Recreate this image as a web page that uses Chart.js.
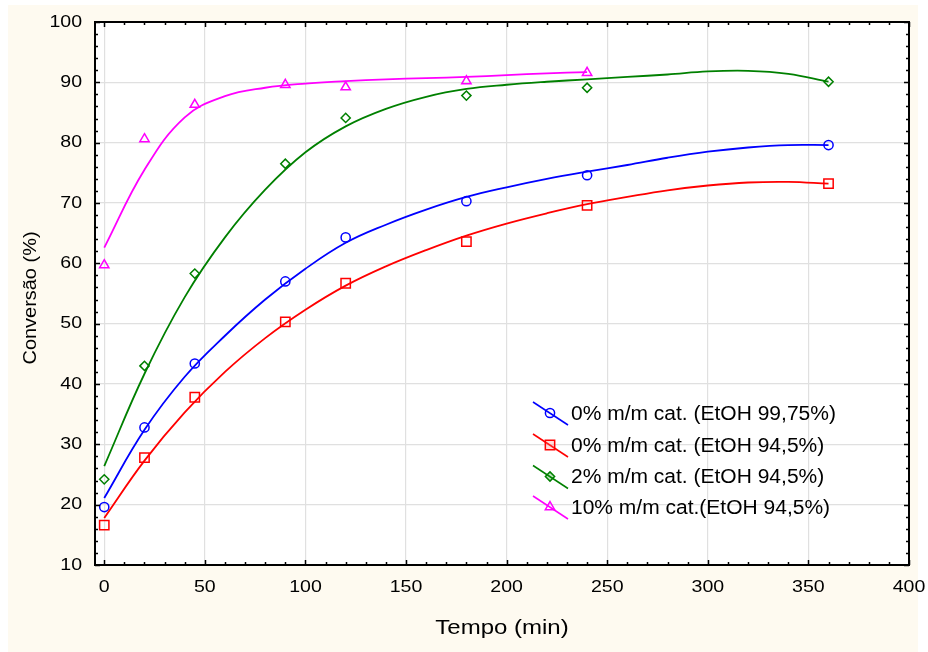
<!DOCTYPE html>
<html>
<head>
<meta charset="utf-8">
<script src="https://cdn.jsdelivr.net/npm/chart.js@4.4.0/dist/chart.umd.min.js"></script>
<style>
  html, body { margin: 0; padding: 0; background: #ffffff; }
  #wrap { width: 928px; height: 652px; }
</style>
</head>
<body>
<div id="wrap"><canvas id="chart" width="928" height="652"></canvas></div>
<script>
// Measured points (Tempo in min, Conversão in %)
const sampleTimes = [0, 20, 45, 90, 120, 180, 240, 360];
const conv0Eth9975 = [19.6, 32.8, 43.4, 57.0, 64.3, 70.3, 74.6, 79.6];
const conv0Eth945 = [16.6, 27.8, 37.8, 50.3, 56.7, 63.6, 69.6, 73.2];
const conv2Eth945 = [24.2, 43.0, 58.3, 76.5, 84.1, 87.8, 89.1, 90.1];
const sampleTimes10 = [0, 20, 45, 90, 120, 180, 240];
const conv10Eth945 = [59.7, 80.6, 86.3, 89.6, 89.2, 90.2, 91.6];

// Fitted curves, every 20 min
const curveTimes = [0, 20, 40, 60, 80, 100, 120, 140, 160, 180, 200, 220, 240, 260, 280, 300, 320, 340, 360];
const fit0Eth9975 = [21.1, 32.4, 41.2, 48.0, 54.0, 59.1, 63.4, 66.4, 68.9, 71.0, 72.6, 74.0, 75.2, 76.3, 77.5, 78.5, 79.2, 79.6, 79.6];
const fit0Eth945 = [17.8, 27.3, 35.3, 42.0, 47.6, 52.3, 56.3, 59.5, 62.2, 64.6, 66.6, 68.3, 69.8, 71.0, 72.1, 72.9, 73.4, 73.5, 73.2];
const fit2Eth945 = [26.4, 41.7, 54.4, 64.3, 72.2, 78.4, 82.7, 85.6, 87.6, 88.9, 89.6, 90.1, 90.5, 90.9, 91.3, 91.8, 91.9, 91.4, 90.1];
const curveTimes10 = [0, 20, 40, 60, 80, 100, 120, 140, 160, 180, 200, 220, 240];
const fit10Eth945 = [62.6, 75.5, 84.2, 87.7, 89.1, 89.8, 90.2, 90.5, 90.7, 90.9, 91.2, 91.5, 91.7];

const xTickValues = [0, 50, 100, 150, 200, 250, 300, 350, 400];
const yTickValues = [10, 20, 30, 40, 50, 60, 70, 80, 90, 100];

const seriesNames = [
    '0% m/m cat. (EtOH 99,75%)',
    '0% m/m cat. (EtOH 94,5%)',
    '2% m/m cat. (EtOH 94,5%)',
    '10% m/m cat.(EtOH 94,5%)'
];
const seriesColors = ['#0000ff', '#ff0000', '#008000', '#ff00ff'];
const legendFills = ['rgba(255,255,255,0)', 'rgba(255,120,120,0.25)', 'rgba(0,160,0,0.25)', 'rgba(255,255,255,0)'];
const markerStyles = [
    { pointStyle: 'circle', radius: 4.6 },
    { pointStyle: 'rect', radius: 6.6 },
    { pointStyle: 'rectRot', radius: 4.6 },
    { pointStyle: 'triangle', radius: 5.4 }
];

function toPoints(xs, ys) {
    return xs.map((x, i) => ({ x: x, y: ys[i] }));
}

function curveDataset(xs, ys, color) {
    return {
        data: toPoints(xs, ys),
        showLine: true,
        borderColor: color,
        borderWidth: 1.8,
        pointRadius: 0,
        tension: 0.4,
        fill: false
    };
}

function markerDataset(xs, ys, idx) {
    return {
        data: toPoints(xs, ys),
        showLine: false,
        borderColor: seriesColors[idx],
        backgroundColor: 'rgba(255,255,255,0)',
        pointStyle: markerStyles[idx].pointStyle,
        pointRadius: markerStyles[idx].radius,
        pointBorderWidth: 1.5
    };
}

const FONT = '"Liberation Sans", Arial, sans-serif';

function stretchText(ctx, text, x, y, size, align, sx, rot) {
    ctx.save();
    ctx.translate(x, y);
    if (rot) ctx.rotate(rot);
    ctx.scale(sx, 1);
    ctx.font = size + 'px ' + FONT;
    ctx.textAlign = align;
    ctx.textBaseline = 'middle';
    ctx.fillStyle = '#000000';
    ctx.fillText(text, 0, 0);
    ctx.restore();
}

// cream page, white plot panel
const backdrop = {
    id: 'backdrop',
    beforeDraw(chart) {
        const ctx = chart.ctx;
        const a = chart.chartArea;
        ctx.save();
        ctx.fillStyle = '#ffffff';
        ctx.fillRect(0, 0, chart.width, chart.height);
        ctx.fillStyle = '#fefaf0';
        ctx.fillRect(8, 5, 910, 647);
        ctx.fillStyle = '#ffffff';
        ctx.fillRect(a.left, a.top, a.right - a.left, a.bottom - a.top);
        ctx.restore();
    }
};

// frame, inward ticks, labels, titles, legend
const decorations = {
    id: 'decorations',
    afterDraw(chart) {
        const ctx = chart.ctx;
        const a = chart.chartArea;
        const xs = chart.scales.x;
        const ys = chart.scales.y;

        ctx.save();
        ctx.strokeStyle = '#000000';
        ctx.lineWidth = 2;
        ctx.strokeRect(a.left, a.top, a.right - a.left, a.bottom - a.top);

        ctx.lineWidth = 1.5;
        ctx.beginPath();
        for (let v = 0; v <= 400; v += 10) {
            const px = Math.round(xs.getPixelForValue(v)) + 0.5;
            const len = v % 50 === 0 ? 5 : 3;
            ctx.moveTo(px, a.bottom); ctx.lineTo(px, a.bottom - len);
            ctx.moveTo(px, a.top); ctx.lineTo(px, a.top + len);
        }
        for (let v = 10; v <= 100; v += 2) {
            const py = Math.round(ys.getPixelForValue(v)) + 0.5;
            const len = v % 10 === 0 ? 5 : 3;
            ctx.moveTo(a.left, py); ctx.lineTo(a.left + len, py);
            ctx.moveTo(a.right, py); ctx.lineTo(a.right - len, py);
        }
        ctx.stroke();
        ctx.restore();

        xTickValues.forEach(v => {
            stretchText(ctx, String(v), xs.getPixelForValue(v), 587, 17, 'center', 1.15);
        });
        yTickValues.forEach(v => {
            stretchText(ctx, String(v), 82, ys.getPixelForValue(v), 17, 'right', 1.15);
        });

        stretchText(ctx, 'Tempo (min)', (a.left + a.right) / 2, 628, 20, 'center', 1.2);
        stretchText(ctx, 'Conversão (%)', 31, 298, 19, 'center', 1.05, -Math.PI / 2);

        // legend
        const rowY = [413, 445, 476.5, 507];
        seriesNames.forEach((name, i) => {
            const y = rowY[i];
            ctx.save();
            ctx.strokeStyle = seriesColors[i];
            ctx.lineWidth = 1.5;
            ctx.beginPath();
            ctx.moveTo(533, y - 11);
            ctx.lineTo(568, y + 12);
            ctx.stroke();
            ctx.fillStyle = legendFills[i];
            Chart.helpers.drawPoint(ctx, {
                pointStyle: markerStyles[i].pointStyle,
                radius: markerStyles[i].radius,
                rotation: 0,
                borderWidth: 1.5
            }, 550, y);
            ctx.restore();
            stretchText(ctx, name, 571, y + 1, 20, 'left', 1.05);
        });
    }
};

const ctx = document.getElementById('chart').getContext('2d');
new Chart(ctx, {
    type: 'scatter',
    data: {
        datasets: [
            curveDataset(curveTimes, fit0Eth9975, seriesColors[0]),
            curveDataset(curveTimes, fit0Eth945, seriesColors[1]),
            curveDataset(curveTimes, fit2Eth945, seriesColors[2]),
            curveDataset(curveTimes10, fit10Eth945, seriesColors[3]),
            markerDataset(sampleTimes, conv0Eth9975, 0),
            markerDataset(sampleTimes, conv0Eth945, 1),
            markerDataset(sampleTimes, conv2Eth945, 2),
            markerDataset(sampleTimes10, conv10Eth945, 3)
        ]
    },
    options: {
        responsive: false,
        animation: false,
        devicePixelRatio: 1,
        layout: { padding: { top: 22, right: 19, left: 0, bottom: 0 } },
        scales: {
            x: {
                type: 'linear',
                min: -4.6,
                max: 400,
                afterBuildTicks: (scale) => { scale.ticks = xTickValues.map(v => ({ value: v })); },
                afterFit: (scale) => { scale.height = 87; },
                ticks: { display: false },
                grid: { color: '#e0e0e0', lineWidth: 1.2, drawTicks: false },
                border: { display: false }
            },
            y: {
                type: 'linear',
                min: 10,
                max: 100,
                afterBuildTicks: (scale) => { scale.ticks = yTickValues.map(v => ({ value: v })); },
                afterFit: (scale) => { scale.width = 95; },
                ticks: { display: false },
                grid: { color: '#e0e0e0', lineWidth: 1.2, drawTicks: false },
                border: { display: false }
            }
        },
        plugins: {
            legend: { display: false },
            tooltip: { enabled: false }
        }
    },
    plugins: [backdrop, decorations]
});
</script>
</body>
</html>
